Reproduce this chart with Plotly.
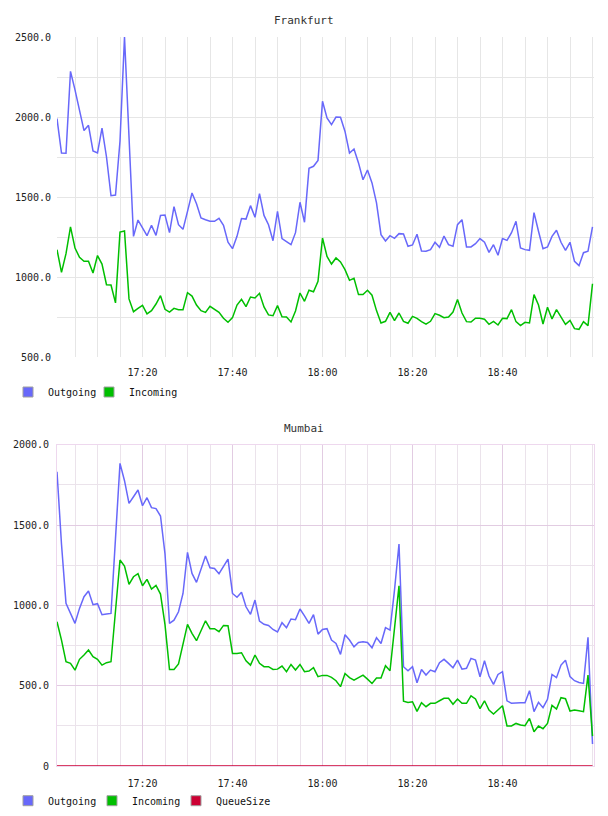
import pandas as pd
import plotly.graph_objects as go

# ---------------- data ----------------
times = pd.date_range("2013-05-14 17:01", periods=120, freq="min")

fra_out = [1990, 1775, 1773, 2285, 2170, 2046, 1915, 1948, 1788, 1775,
           1931, 1750, 1508, 1512, 1850, 2500, 1880, 1254, 1356, 1308,
           1258, 1323, 1260, 1385, 1387, 1277, 1440, 1327, 1298, 1410,
           1525, 1458, 1369, 1358, 1348, 1348, 1367, 1323, 1217, 1177,
           1254, 1365, 1362, 1446, 1373, 1521, 1385, 1327, 1227, 1410,
           1240, 1221, 1202, 1277, 1467, 1342, 1679, 1692, 1729, 2098,
           1994, 1952, 2000, 1998, 1910, 1775, 1800, 1713, 1608, 1669,
           1588, 1463, 1265, 1225, 1258, 1242, 1271, 1269, 1192, 1200,
           1267, 1163, 1161, 1171, 1217, 1186, 1256, 1202, 1192, 1327,
           1358, 1188, 1188, 1208, 1240, 1217, 1154, 1202, 1136, 1240,
           1229, 1277, 1348, 1181, 1171, 1167, 1402, 1286, 1177, 1188,
           1254, 1292, 1217, 1167, 1217, 1098, 1071, 1152, 1161, 1313]

fra_in = [1171, 1029, 1146, 1313, 1181, 1123, 1098, 1098, 1025, 1134,
          1081, 952, 950, 838, 1281, 1288, 863, 783, 804, 823,
          769, 790, 831, 883, 798, 781, 804, 796, 796, 902,
          881, 825, 790, 779, 817, 796, 779, 742, 717, 746,
          825, 861, 815, 875, 869, 898, 813, 763, 758, 821,
          752, 750, 719, 788, 900, 848, 917, 908, 973, 1244,
          1129, 1081, 1119, 1094, 1046, 979, 992, 890, 890, 917,
          886, 790, 713, 723, 779, 727, 775, 723, 711, 754,
          742, 721, 706, 723, 771, 761, 746, 750, 781, 859,
          775, 721, 719, 742, 742, 736, 704, 723, 700, 742,
          740, 796, 721, 696, 717, 713, 890, 825, 706, 811,
          738, 796, 752, 704, 729, 677, 673, 721, 696, 958]

mum_out = [1832, 1380, 1012, 950, 888, 981, 1054, 1089, 1004, 1010,
           942, 946, 950, 1417, 1884, 1776, 1635, 1676, 1718, 1620,
           1670, 1608, 1602, 1556, 1320, 888, 908, 960, 1074, 1330,
           1199, 1143, 1224, 1307, 1234, 1230, 1197, 1241, 1288, 1074,
           1050, 1081, 991, 944, 1033, 902, 882, 875, 850, 834,
           892, 861, 915, 911, 977, 935, 888, 942, 821, 850,
           855, 784, 763, 695, 817, 784, 742, 769, 774, 769,
           736, 799, 763, 861, 846, 1095, 1382, 618, 593, 618,
           518, 601, 566, 597, 587, 643, 664, 639, 612, 659,
           603, 608, 670, 659, 556, 655, 560, 508, 570, 587,
           406, 390, 394, 394, 394, 469, 338, 396, 363, 415,
           570, 550, 628, 659, 556, 531, 520, 514, 801, 137]

mum_in = [898, 784, 649, 639, 597, 664, 691, 722, 680, 664,
          628, 643, 649, 967, 1282, 1245, 1131, 1178, 1197, 1122,
          1162, 1101, 1124, 1070, 880, 601, 601, 635, 767, 882,
          826, 780, 842, 904, 855, 855, 836, 875, 873, 701,
          701, 705, 655, 628, 691, 639, 618, 618, 601, 603,
          622, 587, 632, 597, 632, 587, 591, 612, 556, 564,
          564, 552, 531, 494, 576, 550, 535, 550, 566, 541,
          514, 547, 547, 624, 593, 857, 1122, 404, 396, 400,
          340, 394, 369, 390, 390, 406, 421, 421, 384, 417,
          390, 390, 437, 417, 357, 406, 348, 323, 352, 375,
          249, 249, 265, 255, 251, 296, 213, 249, 232, 265,
          377, 354, 425, 419, 342, 348, 344, 338, 566, 186]

mum_queue = [0, 0, 0, 0, 0, 0, 0, 0, 0, 0, 0, 0, 0, 0, 0, 0, 0, 0, 0, 0,
             0, 0, 0, 0, 0, 0, 0, 0, 0, 0, 0, 0, 0, 0, 0, 0, 0, 0, 0, 0,
             0, 0, 0, 0, 0, 0, 0, 0, 0, 0, 0, 0, 0, 0, 0, 0, 0, 0, 0, 0,
             0, 0, 0, 0, 0, 0, 0, 0, 0, 0, 0, 0, 0, 0, 0, 0, 0, 0, 0, 0,
             0, 0, 0, 0, 0, 0, 0, 0, 0, 0, 0, 0, 0, 0, 0, 0, 0, 0, 0, 0,
             0, 0, 0, 0, 0, 0, 0, 0, 0, 0, 0, 0, 0, 0, 0, 0, 0, 0, 0, 0]

x_ticks = ["2013-05-14 17:20", "2013-05-14 17:40", "2013-05-14 18:00",
           "2013-05-14 18:20", "2013-05-14 18:40"]
fra_yticks = [500, 1000, 1500, 2000, 2500]
fra_ylabels = ["500.0", "1000.0", "1500.0", "2000.0", "2500.0"]
mum_yticks = [0, 500, 1000, 1500, 2000]
mum_ylabels = ["0", "500.0", "1000.0", "1500.0", "2000.0"]

x_range = ["2013-05-14 17:01:00", "2013-05-14 19:00:20"]

# ---------------- style ----------------
FONT = "DejaVu Sans Mono"
C_OUT = "#6868fa"
C_IN = "#00bf00"
C_Q = "#cc0033"
G_GREY = "#e6e6e6"
M_MAJOR = "#e2cce2"
M_MINOR = "#ebe3eb"
M_BORDER = "#eed8ee"

fig = go.Figure()

# Frankfurt
fig.add_trace(go.Scatter(x=times, y=fra_out, mode="lines", line=dict(color=C_OUT, width=1.5),
                         xaxis="x", yaxis="y", showlegend=False, hoverinfo="skip"))
fig.add_trace(go.Scatter(x=times, y=fra_in, mode="lines", line=dict(color=C_IN, width=1.5),
                         xaxis="x", yaxis="y", showlegend=False, hoverinfo="skip"))
# Mumbai
fig.add_trace(go.Scatter(x=times, y=mum_queue, mode="lines", line=dict(color=C_Q, width=1.5),
                         xaxis="x2", yaxis="y2", showlegend=False, hoverinfo="skip", cliponaxis=False))
fig.add_trace(go.Scatter(x=times, y=mum_out, mode="lines", line=dict(color=C_OUT, width=1.5),
                         xaxis="x2", yaxis="y2", showlegend=False, hoverinfo="skip"))
fig.add_trace(go.Scatter(x=times, y=mum_in, mode="lines", line=dict(color=C_IN, width=1.5),
                         xaxis="x2", yaxis="y2", showlegend=False, hoverinfo="skip"))

# legend entries (square swatches)
def legend_entry(name, color, legend, xa, ya, visible_marker=True):
    return go.Scatter(x=[None], y=[None], mode="markers", name=name,
                      marker=dict(symbol="square", size=10, color=color,
                                  opacity=1 if visible_marker else 0,
                                  line=dict(color="#a0a0a0", width=1 if visible_marker else 0)),
                      xaxis=xa, yaxis=ya, legend=legend, hoverinfo="skip")

fig.add_trace(legend_entry("Outgoing", C_OUT, "legend", "x", "y"))
fig.add_trace(legend_entry("Incoming", C_IN, "legend", "x", "y"))
fig.add_trace(legend_entry(" ", "white", "legend", "x", "y", False))
fig.add_trace(legend_entry("Outgoing", C_OUT, "legend2", "x2", "y2"))
fig.add_trace(legend_entry("Incoming", C_IN, "legend2", "x2", "y2"))
fig.add_trace(legend_entry("QueueSize", C_Q, "legend2", "x2", "y2"))
fig.add_trace(legend_entry(" ", "white", "legend2", "x2", "y2", False))

H_PLOT = 816 - 37 - 50
fra_dom = [(816 - 50 - 357) / H_PLOT, 1.0]
mum_dom = [0.0, (766 - 444.7) / H_PLOT]

tickfont = dict(family=FONT, size=10, color="#222")

def xaxis_cfg(anchor, major, minor, line=False):
    return dict(type="date", range=x_range, anchor=anchor,
                tickmode="array", tickvals=x_ticks, tickformat="%H:%M",
                showgrid=True, gridcolor=major, gridwidth=1,
                minor=dict(tickmode="linear", tick0="2013-05-14 17:00", dtick=300000,
                           showgrid=True, gridcolor=minor, gridwidth=1),
                zeroline=False, ticks="", ticklabelstandoff=8,
                showline=line, linecolor=M_BORDER, linewidth=1, mirror=line,
                tickfont=tickfont, fixedrange=True)

LEG_X = (8 - 57) / 537

fig.update_layout(
    width=608, height=816,
    margin=dict(l=57, r=14, t=37, b=50, autoexpand=False),
    paper_bgcolor="white", plot_bgcolor="white",
    font=dict(family=FONT, size=10, color="#222"),
    xaxis=xaxis_cfg("y", G_GREY, G_GREY),
    yaxis=dict(domain=fra_dom, range=[500, 2500], tickmode="array",
               tickvals=fra_yticks, ticktext=fra_ylabels, showgrid=False,
               minor=dict(tickmode="linear", tick0=0, dtick=250, showgrid=True,
                          gridcolor=G_GREY, gridwidth=1),
               zeroline=False, ticks="", ticklabelstandoff=5, tickfont=tickfont,
               fixedrange=True),
    xaxis2=xaxis_cfg("y2", M_MAJOR, M_MINOR, line=True),
    yaxis2=dict(domain=mum_dom, range=[0, 2000], tickmode="array",
                tickvals=mum_yticks, ticktext=mum_ylabels, showgrid=True,
                gridcolor=M_MAJOR, gridwidth=1,
                minor=dict(tickmode="linear", tick0=0, dtick=250, showgrid=True,
                           gridcolor=M_MINOR, gridwidth=1),
                zeroline=False, ticks="", ticklabelstandoff=5, tickfont=tickfont,
                showline=True, linecolor=M_BORDER, linewidth=1, mirror=True,
                fixedrange=True),
    legend=dict(orientation="h", x=LEG_X, xanchor="left",
                y=(766 - 392) / H_PLOT, yanchor="middle",
                font=dict(family=FONT, size=10, color="#111"),
                bgcolor="rgba(0,0,0,0)", itemwidth=30, tracegroupgap=0,
                entrywidth=36, entrywidthmode="pixels"),
    legend2=dict(orientation="h", x=LEG_X, xanchor="left",
                 y=(766 - 800.7) / H_PLOT, yanchor="middle",
                 font=dict(family=FONT, size=10, color="#111"),
                 bgcolor="rgba(0,0,0,0)", itemwidth=30, tracegroupgap=0,
                 entrywidth=39, entrywidthmode="pixels"),
    annotations=[
        dict(text="Frankfurt", xref="paper", yref="paper", x=(304 - 57) / 537,
             y=(766 - 20.7) / H_PLOT, xanchor="center", yanchor="middle",
             showarrow=False, font=dict(family=FONT, size=11, color="#333")),
        dict(text="Mumbai", xref="paper", yref="paper", x=(304 - 57) / 537,
             y=(766 - 428.3) / H_PLOT, xanchor="center", yanchor="middle",
             showarrow=False, font=dict(family=FONT, size=11, color="#333")),
    ],
)

fig.write_html("out.html")
